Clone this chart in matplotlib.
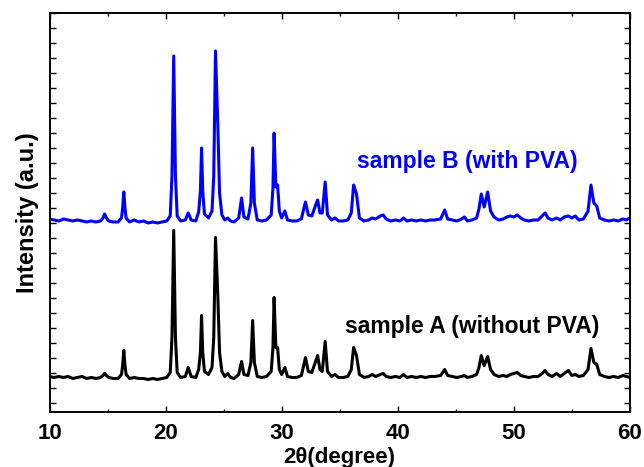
import numpy as np
import matplotlib
matplotlib.use("Agg")
import matplotlib.pyplot as plt
from matplotlib.ticker import MultipleLocator

# XRD patterns (shared 2-theta grid, baseline ~ 0)
two_theta = [
    10.0, 10.4, 10.8, 11.2, 11.6, 12.0, 12.4, 12.8, 13.2, 13.6, 14.0, 14.4,
    14.6, 14.75, 14.9, 15.1, 15.5, 15.9, 16.2, 16.3, 16.4, 16.5, 16.6, 16.9,
    17.3, 17.7, 18.1, 18.5, 18.9, 19.3, 19.7, 20.1, 20.4, 20.55, 20.7, 20.85,
    21.0, 21.3, 21.7, 21.95, 22.2, 22.6, 22.85, 23.0, 23.1, 23.2, 23.35, 23.7,
    24.0, 24.15, 24.3, 24.5, 24.65, 24.85, 25.1, 25.35, 25.6, 25.9, 26.3, 26.55,
    26.75, 27.1, 27.35, 27.5, 27.65, 27.9, 28.3, 28.7, 29.1, 29.25, 29.35, 29.5,
    29.65, 29.8, 30.0, 30.28, 30.5, 30.9, 31.3, 31.7, 31.9, 32.05, 32.3, 32.6,
    32.9, 33.1, 33.3, 33.5, 33.75, 33.95, 34.3, 34.6, 34.9, 35.3, 35.7, 36.0,
    36.2, 36.45, 36.7, 37.1, 37.5, 37.8, 38.1, 38.5, 38.75, 39.0, 39.4, 39.8,
    40.2, 40.5, 40.8, 41.2, 41.6, 42.0, 42.4, 42.8, 43.2, 43.7, 44.05, 44.3,
    44.7, 45.1, 45.5, 45.75, 46.0, 46.4, 46.8, 47.0, 47.2, 47.45, 47.75, 48.0,
    48.3, 48.7, 49.1, 49.4, 49.7, 50.0, 50.3, 50.6, 50.9, 51.3, 51.7, 52.1,
    52.45, 52.7, 52.95, 53.3, 53.7, 54.0, 54.35, 54.7, 55.0, 55.3, 55.6, 56.0,
    56.4, 56.65, 56.9, 57.15, 57.4, 57.8, 58.2, 58.6, 59.0, 59.4, 59.7, 60.0,
]
intensity_a = [
    1, 0, 1, 0, 1, -1, 0, 1, -1, 0, -1, 0,
    2, 4, 2, 0, -1, -1, 3, 12, 27, 12, 3, -1,
    0, -1, -1, -2, -1, -2, -1, 0, 5, 40, 147, 40,
    5, 0, 1, 10, 1, 0, 8, 25, 62, 25, 6, 3,
    10, 40, 140, 82, 25, 6, 1, 4, 0, -1, 3, 16,
    3, 2, 15, 57, 15, 1, 0, 1, 6, 30, 80, 30,
    30, 8, 3, 10, 1, 0, 0, 2, 12, 20, 6, 5,
    15, 22, 8, 6, 36, 6, 1, 3, 0, 0, 1, 8,
    30, 22, 3, 0, 1, 3, 1, 3, 4, 1, 0, 1,
    0, 3, 0, 1, 0, 1, 0, 1, 1, 2, 8, 2,
    1, 0, 1, 2, 0, 1, 3, 10, 22, 12, 21, 8,
    3, 1, 2, 1, 3, 4, 5, 2, 1, 0, 1, 1,
    4, 7, 3, 1, 4, 1, 4, 7, 2, 3, 1, 2,
    8, 29, 15, 13, 3, 1, 0, 1, 0, 2, 1, 0,
]
intensity_b = [
    2, 1, 0, 2, 1, 0, 1, 0, -1, 0, -1, 0,
    3, 7, 3, 0, -1, -1, 3, 13, 29, 13, 3, -1,
    1, -1, 0, -2, -1, -2, -1, 0, 5, 45, 165, 45,
    5, 0, 1, 8, 1, 0, 9, 30, 73, 30, 7, 3,
    10, 45, 170, 96, 28, 6, 1, 3, 0, -1, 3, 23,
    4, 2, 18, 73, 18, 1, 0, 1, 6, 33, 88, 34,
    36, 10, 3, 10, 1, 0, 0, 2, 12, 19, 6, 5,
    15, 21, 8, 8, 39, 6, 1, 3, 0, 0, 1, 8,
    36, 27, 3, 0, 1, 3, 2, 5, 6, 2, 0, 1,
    0, 3, 0, 1, 0, 1, 0, 1, 1, 2, 11, 2,
    1, 0, 2, 4, 0, 1, 3, 12, 27, 14, 29, 10,
    4, 1, 2, 4, 5, 4, 6, 3, 1, 0, 1, 1,
    5, 8, 3, 1, 3, 1, 4, 5, 3, 5, 1, 2,
    10, 36, 18, 15, 3, 1, 0, 1, 0, 2, 1, 3,
]
label_a = "sample A (without PVA)"
label_b = "sample B (with PVA)"

# vertical stacking offsets
offset_a = 34.5
offset_b = 191

plt.rcParams['font.family'] = ['Liberation Sans', 'DejaVu Sans']

fig = plt.figure(figsize=(6.44, 4.67), dpi=100)
ax = fig.add_axes([0.0769, 0.1178, 0.9011, 0.8544])

ax.plot(two_theta, np.array(intensity_a) + offset_a, color='black', lw=2.2)
ax.plot(two_theta, np.array(intensity_b) + offset_b, color='blue', lw=2.2)

ax.text(46.4, 85, label_a, color='black', fontsize=16.5, fontweight='bold',
        ha='center', va='center')
ax.text(45.96, 250, label_b, color='blue', fontsize=16.5, fontweight='bold',
        ha='center', va='center')

ax.set_xlim(10, 60)
ax.set_ylim(0, 399)
ax.xaxis.set_major_locator(MultipleLocator(10))
ax.xaxis.set_minor_locator(MultipleLocator(5))
ax.set_yticks(np.arange(399, 0, -15))
ax.set_yticklabels([])
ax.tick_params(which='both', direction='in', top=True, right=True, width=1.0)
ax.tick_params(which='major', length=4)
ax.tick_params(which='minor', length=2.5)
ax.tick_params(axis='x', labelsize=16, pad=8)
for lbl in ax.get_xticklabels():
    lbl.set_fontweight('bold')
for sp in ax.spines.values():
    sp.set_linewidth(1.4)

ax.set_xlabel("2\u03b8(degree)", fontsize=16, fontweight='bold', labelpad=2)
ax.set_ylabel("Intensity (a.u.)", fontsize=17, fontweight='bold', labelpad=4)

fig.savefig("out.png", dpi=100)
